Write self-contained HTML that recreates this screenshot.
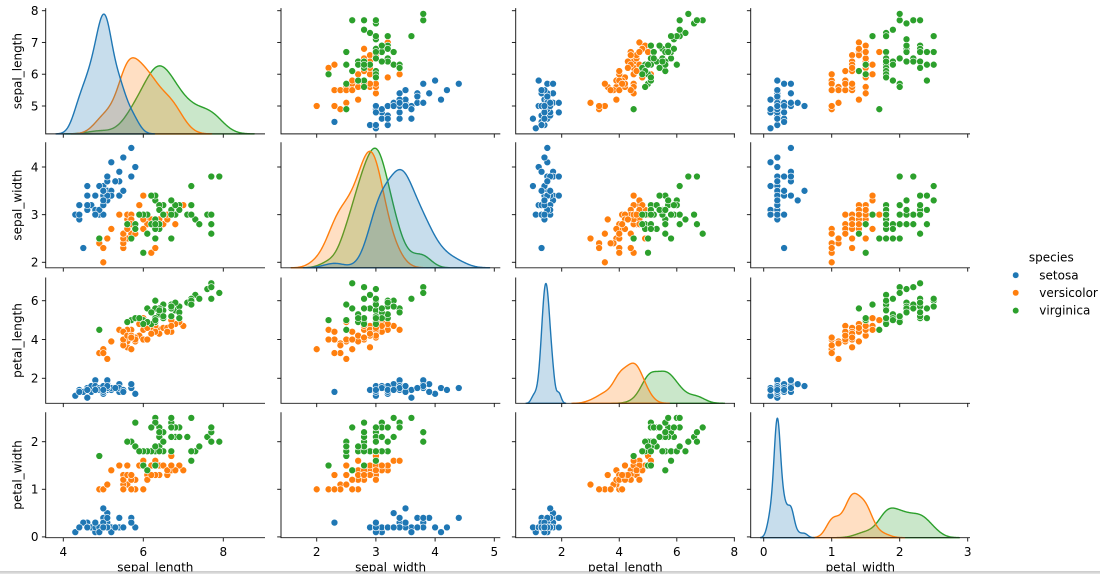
<!DOCTYPE html>
<html><head><meta charset="utf-8">
<style>
html,body{margin:0;padding:0;background:#fff;width:1100px;height:574px;overflow:hidden;}
svg{display:block;}
text{font-family:"DejaVu Sans","Liberation Sans",sans-serif;fill:#000;font-size:12px;}
</style></head><body>
<svg id="c" width="1100" height="574" viewBox="0 0 1100 574" xmlns="http://www.w3.org/2000/svg">
<rect x="0" y="0" width="1100" height="574" fill="#fff"/>
<g id="plot"></g>
<g text-anchor="end">
<text x="38.5" y="110.3">5</text><text x="38.5" y="78.5">6</text><text x="38.5" y="46.8">7</text><text x="38.5" y="15.0">8</text>
<text x="38.5" y="266.6">2</text><text x="38.5" y="219.0">3</text><text x="38.5" y="171.3">4</text>
<text x="38.5" y="382.6">2</text><text x="38.5" y="343.8">4</text><text x="38.5" y="305.0">6</text>
<text x="38.5" y="541.2">0</text><text x="38.5" y="493.6">1</text><text x="38.5" y="446.0">2</text>
</g>
<g text-anchor="middle">
<text x="63.3" y="556">4</text><text x="143.3" y="556">6</text><text x="223.3" y="556">8</text>
<text x="316.7" y="556">2</text><text x="375.9" y="556">3</text><text x="435.1" y="556">4</text><text x="494.3" y="556">5</text>
<text x="561.7" y="556">2</text><text x="619.2" y="556">4</text><text x="676.8" y="556">6</text><text x="734.3" y="556">8</text>
<text x="763.7" y="556">0</text><text x="831.7" y="556">1</text><text x="899.7" y="556">2</text><text x="967.7" y="556">3</text>
<text x="155.3" y="571.5">sepal_length</text>
<text x="390.6" y="571.5">sepal_width</text>
<text x="625.3" y="571.5">petal_length</text>
<text x="860.3" y="571.5">petal_width</text>
<text transform="translate(21.3,71.1) rotate(-90)">sepal_length</text>
<text transform="translate(21.3,205.1) rotate(-90)">sepal_width</text>
<text transform="translate(21.3,340.5) rotate(-90)">petal_length</text>
<text transform="translate(21.3,475.0) rotate(-90)">petal_width</text>
<text x="1051.3" y="261.7">species</text>
</g>
<circle cx="1015.7" cy="275.2" r="3.2" fill="#1f77b4" stroke="#fff" stroke-width="0.5"/>
<circle cx="1015.7" cy="292.8" r="3.2" fill="#ff7f0e" stroke="#fff" stroke-width="0.5"/>
<circle cx="1015.7" cy="310.6" r="3.2" fill="#2ca02c" stroke="#fff" stroke-width="0.5"/>
<text x="1039.3" y="279.4">setosa</text>
<text x="1039.3" y="297.0">versicolor</text>
<text x="1039.3" y="314.6">virginica</text>
<rect x="0" y="571.5" width="1100" height="2.5" fill="#e2e2e2"/>
<line x1="0" y1="571.8" x2="1100" y2="571.8" stroke="#b0b0b0" stroke-width="0.8"/>
</svg>
<script>
(function(){
var raw = "5.1,3.5,1.4,0.2 4.9,3.0,1.4,0.2 4.7,3.2,1.3,0.2 4.6,3.1,1.5,0.2 5.0,3.6,1.4,0.2 5.4,3.9,1.7,0.4 4.6,3.4,1.4,0.3 5.0,3.4,1.5,0.2 4.4,2.9,1.4,0.2 4.9,3.1,1.5,0.1 " +
"5.4,3.7,1.5,0.2 4.8,3.4,1.6,0.2 4.8,3.0,1.4,0.1 4.3,3.0,1.1,0.1 5.8,4.0,1.2,0.2 5.7,4.4,1.5,0.4 5.4,3.9,1.3,0.4 5.1,3.5,1.4,0.3 5.7,3.8,1.7,0.3 5.1,3.8,1.5,0.3 " +
"5.4,3.4,1.7,0.2 5.1,3.7,1.5,0.4 4.6,3.6,1.0,0.2 5.1,3.3,1.7,0.5 4.8,3.4,1.9,0.2 5.0,3.0,1.6,0.2 5.0,3.4,1.6,0.4 5.2,3.5,1.5,0.2 5.2,3.4,1.4,0.2 4.7,3.2,1.6,0.2 " +
"4.8,3.1,1.6,0.2 5.4,3.4,1.5,0.4 5.2,4.1,1.5,0.1 5.5,4.2,1.4,0.2 4.9,3.1,1.5,0.2 5.0,3.2,1.2,0.2 5.5,3.5,1.3,0.2 4.9,3.6,1.4,0.1 4.4,3.0,1.3,0.2 5.1,3.4,1.5,0.2 " +
"5.0,3.5,1.3,0.3 4.5,2.3,1.3,0.3 4.4,3.2,1.3,0.2 5.0,3.5,1.6,0.6 5.1,3.8,1.9,0.4 4.8,3.0,1.4,0.3 5.1,3.8,1.6,0.2 4.6,3.2,1.4,0.2 5.3,3.7,1.5,0.2 5.0,3.3,1.4,0.2 " +
"7.0,3.2,4.7,1.4 6.4,3.2,4.5,1.5 6.9,3.1,4.9,1.5 5.5,2.3,4.0,1.3 6.5,2.8,4.6,1.5 5.7,2.8,4.5,1.3 6.3,3.3,4.7,1.6 4.9,2.4,3.3,1.0 6.6,2.9,4.6,1.3 5.2,2.7,3.9,1.4 " +
"5.0,2.0,3.5,1.0 5.9,3.0,4.2,1.5 6.0,2.2,4.0,1.0 6.1,2.9,4.7,1.4 5.6,2.9,3.6,1.3 6.7,3.1,4.4,1.4 5.6,3.0,4.5,1.5 5.8,2.7,4.1,1.0 6.2,2.2,4.5,1.5 5.6,2.5,3.9,1.1 " +
"5.9,3.2,4.8,1.8 6.1,2.8,4.0,1.3 6.3,2.5,4.9,1.5 6.1,2.8,4.7,1.2 6.4,2.9,4.3,1.3 6.6,3.0,4.4,1.4 6.8,2.8,4.8,1.4 6.7,3.0,5.0,1.7 6.0,2.9,4.5,1.5 5.7,2.6,3.5,1.0 " +
"5.5,2.4,3.8,1.1 5.5,2.4,3.7,1.0 5.8,2.7,3.9,1.2 6.0,2.7,5.1,1.6 5.4,3.0,4.5,1.5 6.0,3.4,4.5,1.6 6.7,3.1,4.7,1.5 6.3,2.3,4.4,1.3 5.6,3.0,4.1,1.3 5.5,2.5,4.0,1.3 " +
"5.5,2.6,4.4,1.2 6.1,3.0,4.6,1.4 5.8,2.6,4.0,1.2 5.0,2.3,3.3,1.0 5.6,2.7,4.2,1.3 5.7,3.0,4.2,1.2 5.7,2.9,4.2,1.3 6.2,2.9,4.3,1.3 5.1,2.5,3.0,1.1 5.7,2.8,4.1,1.3 " +
"6.3,3.3,6.0,2.5 5.8,2.7,5.1,1.9 7.1,3.0,5.9,2.1 6.3,2.9,5.6,1.8 6.5,3.0,5.8,2.2 7.6,3.0,6.6,2.1 4.9,2.5,4.5,1.7 7.3,2.9,6.3,1.8 6.7,2.5,5.8,1.8 7.2,3.6,6.1,2.5 " +
"6.5,3.2,5.1,2.0 6.4,2.7,5.3,1.9 6.8,3.0,5.5,2.1 5.7,2.5,5.0,2.0 5.8,2.8,5.1,2.4 6.4,3.2,5.3,2.3 6.5,3.0,5.5,1.8 7.7,3.8,6.7,2.2 7.7,2.6,6.9,2.3 6.0,2.2,5.0,1.5 " +
"6.9,3.2,5.7,2.3 5.6,2.8,4.9,2.0 7.7,2.8,6.7,2.0 6.3,2.7,4.9,1.8 6.7,3.3,5.7,2.1 7.2,3.2,6.0,1.8 6.2,2.8,4.8,1.8 6.1,3.0,4.9,1.8 6.4,2.8,5.6,2.1 7.2,3.0,5.8,1.6 " +
"7.4,2.8,6.1,1.9 7.9,3.8,6.4,2.0 6.4,2.8,5.6,2.2 6.3,2.8,5.1,1.5 6.1,2.6,5.6,1.4 7.7,3.0,6.1,2.3 6.3,3.4,5.6,2.4 6.4,3.1,5.5,1.8 6.0,3.0,4.8,1.8 6.9,3.1,5.4,2.1 " +
"6.7,3.1,5.6,2.4 6.9,3.1,5.1,2.3 5.8,2.7,5.1,1.9 6.8,3.2,5.9,2.3 6.7,3.3,5.7,2.5 6.7,3.0,5.2,2.3 6.3,2.5,5.0,1.9 6.5,3.0,5.2,2.0 6.2,3.4,5.4,2.3 5.9,3.0,5.1,1.8";
var R = raw.trim().split(/\s+/).map(function(r){return r.split(',').map(Number);});
var C = ['#1f77b4','#ff7f0e','#2ca02c'];
var CF = ['rgba(31,119,180,0.25)','rgba(255,127,14,0.25)','rgba(44,160,44,0.25)'];
var X = [
 {l:45.7,r:265.0,f:function(v){return 63.3+(v-4)*40;},t:[4,6,8]},
 {l:281.0,r:500.3,f:function(v){return 316.7+(v-2)*59.2;},t:[2,3,4,5]},
 {l:515.7,r:735.0,f:function(v){return 561.7+(v-2)*28.775;},t:[2,4,6,8]},
 {l:750.7,r:970.0,f:function(v){return 763.7+v*68;},t:[0,1,2,3]}
];
var Y = [
 {t:8.15,b:133.9,f:function(v){return 106-(v-5)*31.77;},k:[5,6,7,8]},
 {t:142.2,b:267.8,f:function(v){return 262.3-(v-2)*47.65;},k:[2,3,4]},
 {t:277.5,b:403.3,f:function(v){return 378.3-(v-2)*19.4;},k:[2,4,6]},
 {t:412.2,b:537.7,f:function(v){return 536.9-v*47.6;},k:[0,1,2]}
];
var s = '';
for (var i=0;i<4;i++) for (var j=0;j<4;j++){
  var cx=X[j], ry=Y[i];
  if (i===j){
    var curves=[], mx=0;
    for (var k=0;k<3;k++){
      var d=R.slice(k*50,k*50+50).map(function(r){return r[i];});
      var n=d.length, m=d.reduce(function(a,b){return a+b;},0)/n;
      var sd=Math.sqrt(d.reduce(function(a,b){return a+(b-m)*(b-m);},0)/(n-1));
      var bw=sd*Math.pow(n,-0.2);
      var lo=Math.min.apply(null,d)-3*bw, hi=Math.max.apply(null,d)+3*bw;
      var pts=[];
      for (var g=0;g<200;g++){
        var x=lo+(hi-lo)*g/199, z=0;
        for (var q=0;q<n;q++){var u=(x-d[q])/bw; z+=Math.exp(-0.5*u*u);}
        z=z/(n*bw*Math.sqrt(2*Math.PI))/3;
        pts.push([x,z]); if(z>mx) mx=z;
      }
      curves.push(pts);
    }
    for (var k2=2;k2>=0;k2--){
      var p=curves[k2];
      var path='M'+cx.f(p[0][0]).toFixed(2)+','+ry.b;
      for (var g2=0;g2<p.length;g2++){
        path+='L'+cx.f(p[g2][0]).toFixed(2)+','+(ry.b-p[g2][1]/(mx*1.05)*(ry.b-ry.t)).toFixed(2);
      }
      path+='L'+cx.f(p[p.length-1][0]).toFixed(2)+','+ry.b+'Z';
      s+='<path d="'+path+'" fill="'+CF[k2]+'" stroke="'+C[k2]+'" stroke-width="1.4" stroke-linejoin="round"/>';
    }
  } else {
    for (var t=0;t<150;t++){
      s+='<circle cx="'+cx.f(R[t][j]).toFixed(2)+'" cy="'+ry.f(R[t][i]).toFixed(2)+'" r="3.45" fill="'+C[Math.floor(t/50)]+'" stroke="#fff" stroke-width="0.6"/>';
    }
  }
  s+='<path d="M'+cx.l+','+ry.t+'V'+ry.b+'H'+cx.r+'" fill="none" stroke="#1a1a1a" stroke-width="0.96"/>';
  for (var a=0;a<cx.t.length;a++){
    var xx=cx.f(cx.t[a]).toFixed(2);
    s+='<line x1="'+xx+'" y1="'+ry.b+'" x2="'+xx+'" y2="'+(ry.b+3.8)+'" stroke="#1a1a1a" stroke-width="0.96"/>';
  }
  for (var b2=0;b2<ry.k.length;b2++){
    var yy=ry.f(ry.k[b2]).toFixed(2);
    s+='<line x1="'+(cx.l-3.8)+'" y1="'+yy+'" x2="'+cx.l+'" y2="'+yy+'" stroke="#1a1a1a" stroke-width="0.96"/>';
  }
}
document.getElementById('plot').insertAdjacentHTML('beforeend', s);
})();
</script>
</body></html>
